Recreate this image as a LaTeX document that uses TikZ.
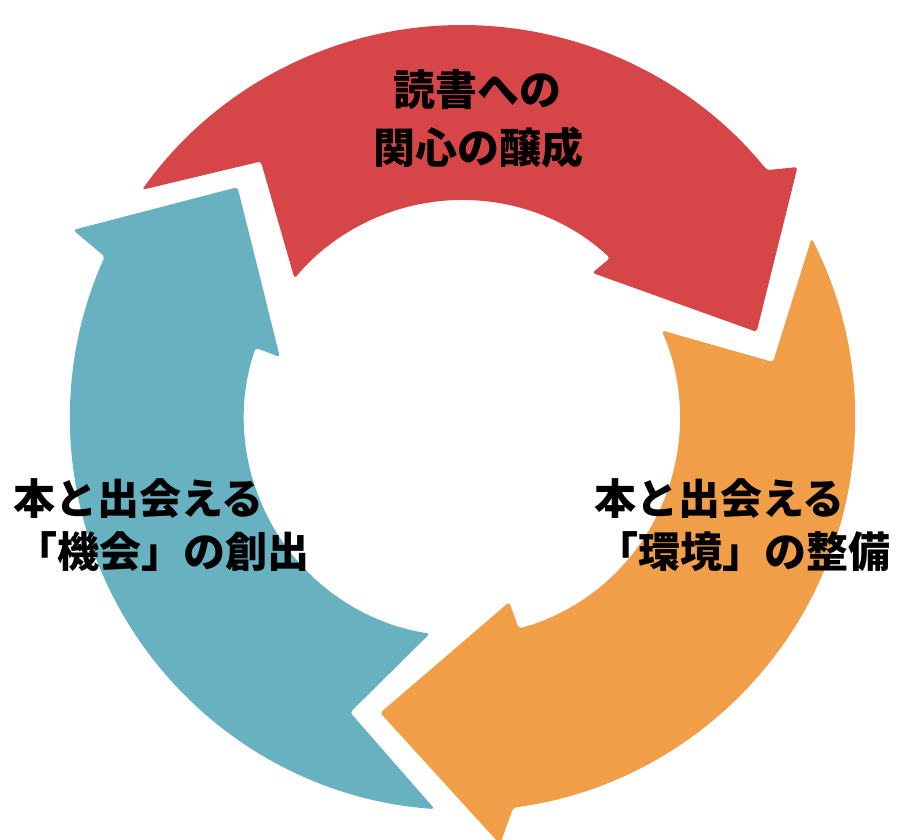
\documentclass[tikz,border=0pt]{standalone}
\usepackage{fontspec}
\newfontfamily\jp{Noto Sans CJK JP}
\definecolor{arrred}{RGB}{214,70,72}
\definecolor{arrorange}{RGB}{241,158,73}
\definecolor{arrblue}{RGB}{103,177,193}
\tikzset{
  cyclearrow/.style={draw=none, rounded corners=3pt},
  label/.style={inner sep=0pt, font=\jp\bfseries\fontsize{42pt}{50pt}\selectfont, text=black}
}
\begin{document}
\begin{tikzpicture}[x=1pt,y=1pt]
\useasboundingbox (0,0) rectangle (901,839);
\clip (0,0) rectangle (901,839);
\fill[white] (0,0) rectangle (901,839);
\begin{scope}[shift={(462,421)}]
% red arrow (top)
\fill[arrred, cyclearrow] (144.5:393) arc[start angle=144.5, end angle=39.1, radius=393pt]
  -- (36.8:419) -- (16.3:307) -- (48.1:195) -- (47.2:218)
  arc[start angle=47.2, end angle=140.2, radius=218pt]
  -- (128.1:326) -- cycle;
% orange arrow (right)
\fill[arrorange, cyclearrow] (27.2:393) arc[start angle=27.2, end angle=-82.5, radius=393pt]
  -- (-84.9:428) -- (-105.5:306) -- (-75.6:190) -- (-74.9:218)
  arc[start angle=-74.9, end angle=23.7, radius=218pt]
  -- (10.2:316) -- cycle;
% blue arrow (left)
\fill[arrblue, cyclearrow] (266:392) arc[start angle=266, end angle=155.7, radius=392pt]
  -- (154.2:432) -- (134.2:322) -- (161.5:192) -- (161.2:218)
  arc[start angle=161.2, end angle=261.5, radius=218pt]
  -- (249.2:315) -- cycle;
\end{scope}
\node[label, anchor=base] (r1) at (477,733) {読書への};
\node[label, anchor=base] (r2) at (478,675.5) {関心の醸成};
\node[label, anchor=base west] (l1) at (13,325) {本と出会える};
\node[label, anchor=base west] (l2) at (15,272) {「機会」の創出};
\node[label, anchor=base west] (o1) at (594,325) {本と出会える};
\node[label, anchor=base west] (o2) at (596,272) {「環境」の整備};
\end{tikzpicture}
\end{document}
